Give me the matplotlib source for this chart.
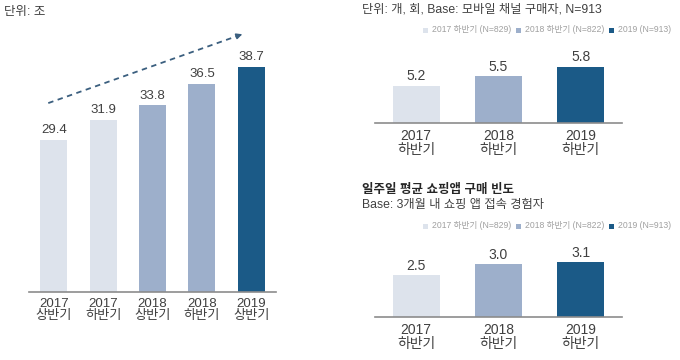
import matplotlib.pyplot as plt
from matplotlib.patches import Rectangle

plt.rcParams['font.family'] = ['Liberation Sans', 'Noto Sans CJK KR', 'DejaVu Sans']

# Left chart: mobile shopping volume (unit: 조)
half_labels = ['2017\n상반기', '2017\n하반기', '2018\n상반기', '2018\n하반기', '2019\n상반기']
half_values = [29.4, 31.9, 33.8, 36.5, 38.7]
half_colors = ['#dde3ec', '#dde3ec', '#9dafcb', '#9dafcb', '#1b5a87']

# Right charts: yearly comparison
year_labels = ['2017\n하반기', '2018\n하반기', '2019\n하반기']
legend_labels = ['2017 하반기 (N=829)', '2018 하반기 (N=822)', '2019 (N=913)']
year_colors = ['#dde3ec', '#9dafcb', '#1b5a87']
channel_values = [5.2, 5.5, 5.8]
freq_values = [2.5, 3.0, 3.1]

text_color = '#404040'
axis_color = '#8c8c8c'

W, H = 680, 360
fig = plt.figure(figsize=(6.8, 3.6), dpi=100)


def px_axes(x0, x1, y_top, y_base):
    return fig.add_axes([x0 / W, 1 - y_base / H, (x1 - x0) / W, (y_base - y_top) / H])


def style(ax, labels, fs):
    for s in ['top', 'right', 'left']:
        ax.spines[s].set_visible(False)
    ax.spines['bottom'].set_color(axis_color)
    ax.spines['bottom'].set_linewidth(1.2)
    ax.set_yticks([])
    ax.set_xticks(range(len(labels)))
    ax.set_xticklabels(labels, fontsize=fs, color=text_color, linespacing=1.05)
    ax.tick_params(axis='x', length=0, pad=4)


def legend_row(y):
    # squares at fixed pixel positions like the reference
    for x, c, lab in zip([423, 516, 609], year_colors, legend_labels):
        fig.patches.append(Rectangle((x / W, 1 - (y + 2.5) / H), 5 / W, 5 / H,
                                     transform=fig.transFigure, facecolor=c,
                                     edgecolor='none'))
        fig.text((x + 9) / W, 1 - y / H, lab, fontsize=6.2, color='#a0a0a0',
                 va='center', ha='left')


# ---- left chart
ax1 = px_axes(29, 276, 20, 292)
x1 = range(len(half_values))
ax1.bar(x1, half_values, width=0.55, color=half_colors)
for i, v in enumerate(half_values):
    ax1.text(i, v + 0.5, f'{v:.1f}', ha='center', va='bottom', fontsize=9.5, color=text_color)
ax1.set_xlim(-0.5, 4.5)
ax1.set_ylim(10.0, 44.7)
style(ax1, half_labels, 9.5)

# dashed trend arrow
start, end = (-0.11, 34.1), (3.87, 43.0)
ax1.plot([start[0], end[0] - 0.06], [start[1], end[1] - 0.13], ls=(0, (3, 2.5)),
         color='#3b5f7f', lw=1.3, clip_on=False)
ax1.annotate('', xy=end, xytext=(end[0] - 0.15, end[1] - 0.33),
             arrowprops=dict(arrowstyle='-|>', color='#3b5f7f', lw=1.2,
                             mutation_scale=8), annotation_clip=False)

fig.text(4 / W, 1 - 12 / H, '단위: 조', fontsize=9, color=text_color, va='center')

# ---- top right chart
ax2 = px_axes(375, 622, 45, 123)
ax2.bar(range(3), channel_values, width=0.57, color=year_colors)
for i, v in enumerate(channel_values):
    ax2.text(i, v + 0.08, f'{v:.1f}', ha='center', va='bottom', fontsize=10, color=text_color)
ax2.set_xlim(-0.5, 2.5)
ax2.set_ylim(4.03, 6.49)
style(ax2, year_labels, 10)

fig.text(362 / W, 1 - 9 / H, '단위: 개, 회, Base: 모바일 채널 구매자, N=913',
         fontsize=8.8, color=text_color, va='center')
legend_row(30)

# ---- bottom right chart
ax3 = px_axes(375, 622, 240, 317)
ax3.bar(range(3), freq_values, width=0.57, color=year_colors)
for i, v in enumerate(freq_values):
    ax3.text(i, v + 0.1, f'{v:.1f}', ha='center', va='bottom', fontsize=10, color=text_color)
ax3.set_xlim(-0.5, 2.5)
ax3.set_ylim(0.6, 4.1)
style(ax3, year_labels, 10)

fig.text(362 / W, 1 - 190 / H, '일주일 평균 쇼핑앱 구매 빈도', fontsize=9,
         fontweight='bold', color='#262626', va='center')
fig.text(362 / W, 1 - 205 / H, 'Base: 3개월 내 쇼핑 앱 접속 경험자', fontsize=8.8,
         color=text_color, va='center')
legend_row(226)

fig.savefig('out.png', dpi=100)
